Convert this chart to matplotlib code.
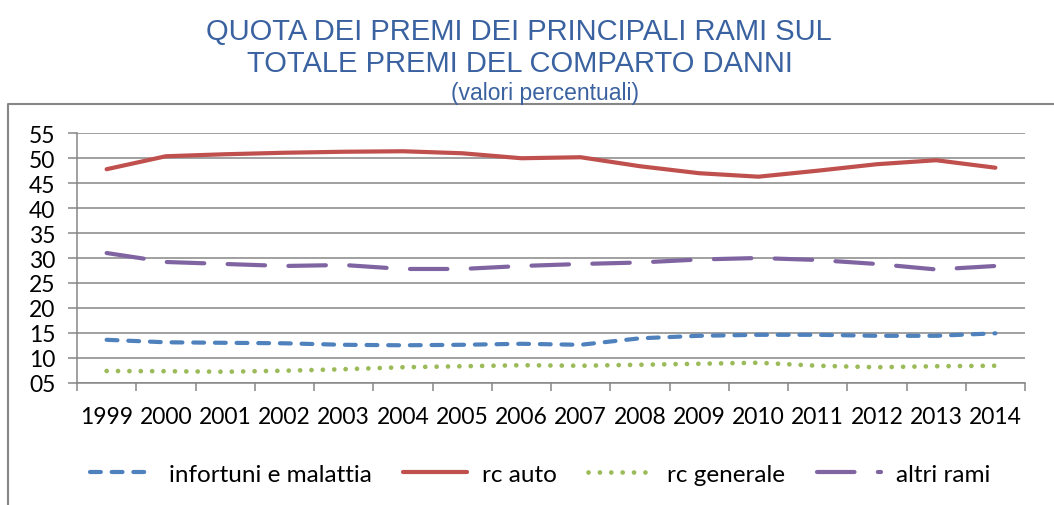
import matplotlib
matplotlib.use("Agg")
import matplotlib.pyplot as plt
from matplotlib.lines import Line2D
import numpy as np

years = ["1999", "2000", "2001", "2002", "2003", "2004", "2005", "2006",
         "2007", "2008", "2009", "2010", "2011", "2012", "2013", "2014"]
infortuni = [13.6, 13.1, 13.0, 12.9, 12.6, 12.5, 12.6, 12.8,
             12.6, 13.9, 14.4, 14.6, 14.6, 14.4, 14.4, 14.9]
rc_auto = [47.8, 50.4, 50.8, 51.1, 51.3, 51.4, 51.0, 50.0,
           50.2, 48.4, 47.0, 46.3, 47.5, 48.8, 49.6, 48.1]
rc_generale = [7.35, 7.3, 7.2, 7.4, 7.7, 8.1, 8.3, 8.5,
               8.4, 8.6, 8.8, 9.0, 8.4, 8.1, 8.3, 8.4]
altri_rami = [31.0, 29.2, 28.8, 28.4, 28.6, 27.8, 27.8, 28.4,
              28.8, 29.1, 29.7, 30.0, 29.6, 28.8, 27.7, 28.4]
series_names = ["infortuni e malattia", "rc auto", "rc generale", "altri rami"]
y_ticks = [5, 10, 15, 20, 25, 30, 35, 40, 45, 50, 55]

W, H = 1054, 506
fig = plt.figure(figsize=(W / 100, H / 100), dpi=100)
fig.patch.set_facecolor("white")

grid_c = "#868686"
tick_font = "Lato"

# outer chart border (left and top)
fig.add_artist(Line2D([8 / W, 8 / W, 1.0], [0.0, 1 - 105 / H, 1 - 105 / H],
                      transform=fig.transFigure, color=grid_c, lw=1.5))

ax = fig.add_axes([77 / W, 1 - 383.7 / H, (1025 - 77) / W, (383.7 - 134.3) / H])
x = np.arange(len(years))

lw = 3.0
ax.plot(x, infortuni, color="#4F81BD", lw=lw, dashes=(2.6, 2.6),
        dash_capstyle="round", solid_capstyle="round", label=series_names[0], zorder=3)
ax.plot(x, rc_auto, color="#C0504D", lw=lw, solid_capstyle="round",
        solid_joinstyle="round", label=series_names[1], zorder=3)
ax.plot(x, rc_generale, color="#9BBB59", lw=3.4, dashes=(0.01, 2.4),
        dash_capstyle="round", label=series_names[2], zorder=3)
ax.plot(x, altri_rami, color="#8064A2", lw=lw, dashes=(9.0, 5.6),
        dash_capstyle="round", label=series_names[3], zorder=3)

ax.set_xlim(-0.5, len(years) - 0.5)
ax.set_ylim(5, 55)
ax.set_yticks(y_ticks)
ax.set_yticklabels([f"{v:02d}" for v in y_ticks], fontfamily=tick_font, fontsize=16.5)
ax.grid(axis="y", color=grid_c, lw=1.1, zorder=0)
ax.set_xticks(x)
ax.set_xticklabels(years, fontfamily=tick_font, fontsize=16.5)
ax.set_xticks(np.arange(-0.5, len(years)), minor=True)
ax.tick_params(axis="x", which="major", length=0, pad=17)
ax.tick_params(axis="x", which="minor", length=6, width=1.1, color=grid_c, direction="out")
ax.tick_params(axis="y", length=6.5, width=1.1, color=grid_c, pad=9)
for s in ["top", "right"]:
    ax.spines[s].set_visible(False)
for s in ["left", "bottom"]:
    ax.spines[s].set_color(grid_c)
    ax.spines[s].set_linewidth(1.1)

title_c = "#3A62A0"
fig.text(519 / W, 1 - 40 / H, "QUOTA DEI PREMI DEI PRINCIPALI RAMI SUL",
         ha="center", va="baseline", fontsize=21, color=title_c, family="Liberation Sans")
fig.text(520 / W, 1 - 72 / H, "TOTALE PREMI DEL COMPARTO DANNI",
         ha="center", va="baseline", fontsize=21, color=title_c, family="Liberation Sans")
fig.text(545 / W, 1 - 100 / H, "(valori percentuali)",
         ha="center", va="baseline", fontsize=16.5, color=title_c, family="Liberation Sans")

leg = fig.legend(loc="center", bbox_to_anchor=(540 / W, 1 - 475 / H), ncol=4,
                 frameon=False, prop={"family": tick_font, "size": 17.5},
                 handlelength=2.65, handletextpad=0.6, columnspacing=1.3)

fig.savefig("out.png", dpi=100, facecolor="white")
